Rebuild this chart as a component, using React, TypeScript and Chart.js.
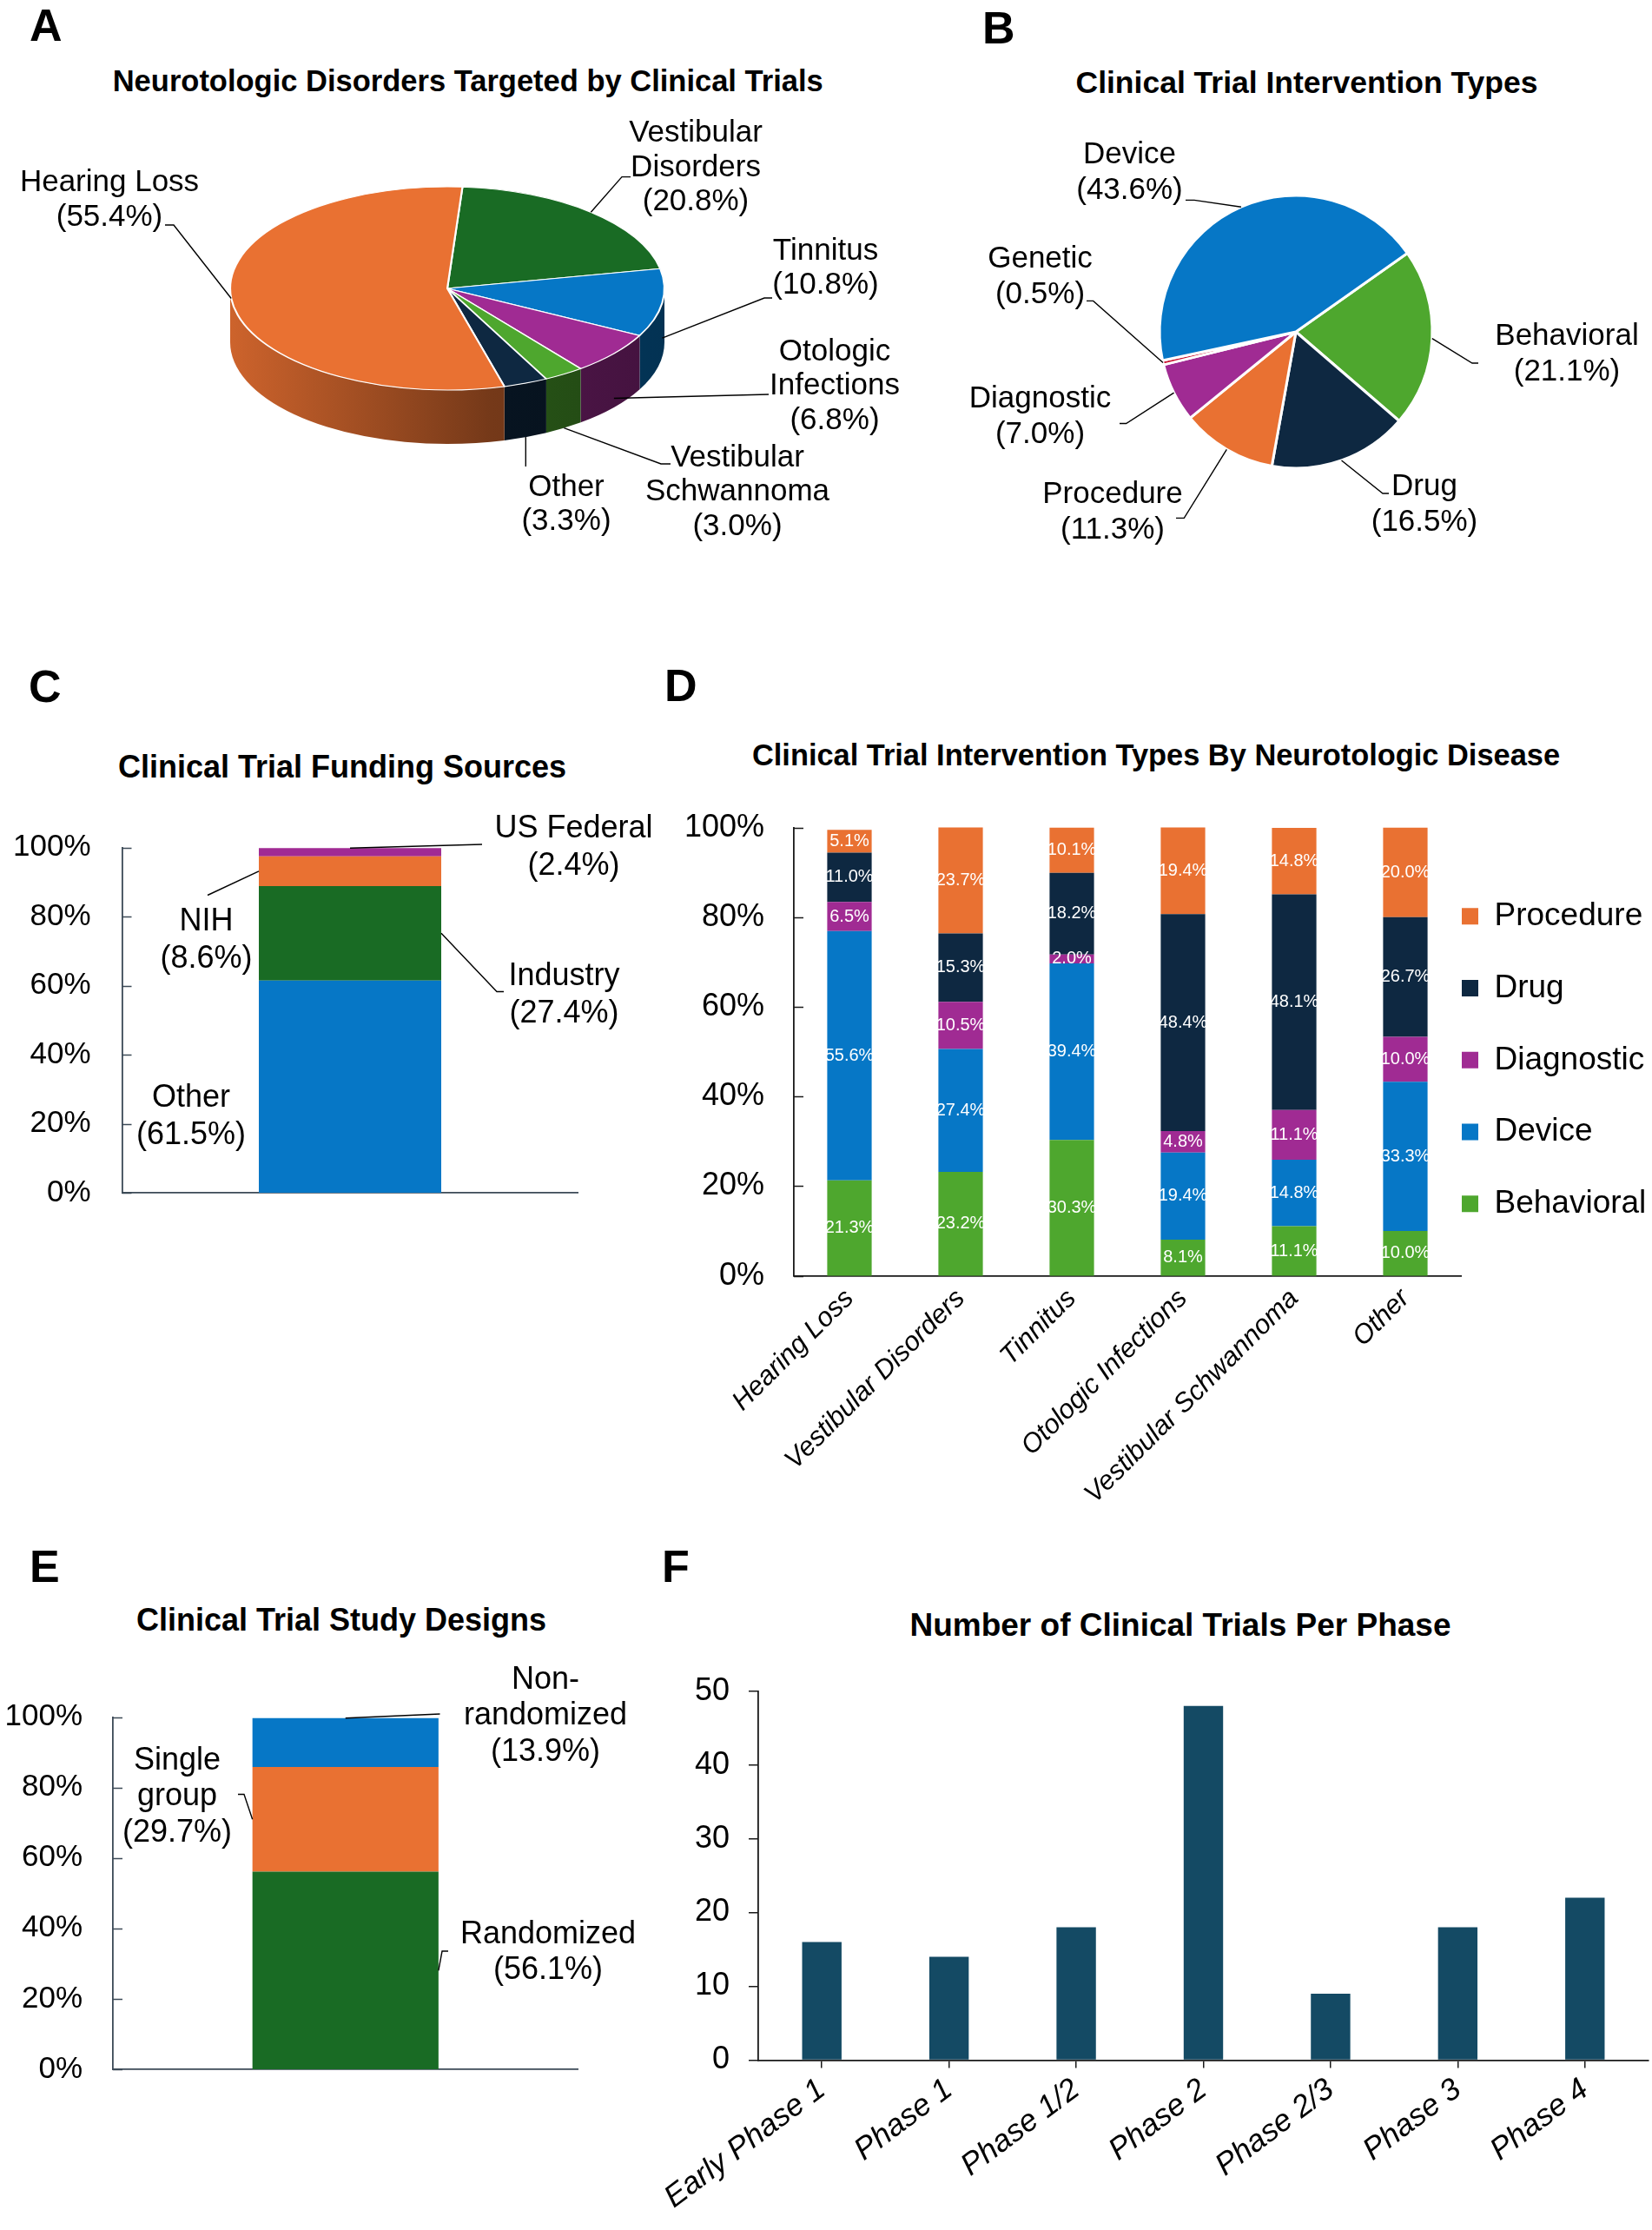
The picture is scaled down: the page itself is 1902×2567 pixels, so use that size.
import React, { useEffect, useRef } from 'react';
import { Chart, registerables } from 'chart.js';

Chart.register(...registerables);

const FONT = '"Liberation Sans", Arial, Helvetica, sans-serif';
Chart.defaults.font.family = FONT;
Chart.defaults.color = '#000';

// ---------- palette ----------
const ORANGE = '#E97132';
const DKGREEN = '#196B24';
const BLUE = '#0677C6';
const PURPLE = '#A02B93';
const LTGREEN = '#4EA72E';
const NAVY = '#0E2841';
const RED = '#C8102E';
const TEAL = '#144A64';
const AXIS_C = '#3c4a57';
const AXIS_D = '#1a1a1a';

// ---------- A: disorders (clockwise from top) ----------
const disorderNames = ['Vestibular Disorders', 'Tinnitus', 'Otologic Infections', 'Vestibular Schwannoma', 'Other', 'Hearing Loss'];
const disorderShares = [20.8, 10.8, 6.8, 3.0, 3.3, 55.4];
const disorderColors = [DKGREEN, BLUE, PURPLE, LTGREEN, NAVY, ORANGE];

// ---------- B: intervention types (clockwise) ----------
const interventionNames = ['Behavioral', 'Drug', 'Procedure', 'Diagnostic', 'Genetic', 'Device'];
const interventionShares = [21.1, 16.5, 11.3, 7.0, 0.5, 43.6];
const interventionColors = [LTGREEN, NAVY, ORANGE, PURPLE, RED, BLUE];

// ---------- C: funding (bottom to top) ----------
const fundingNames = ['Other', 'Industry', 'NIH', 'US Federal'];
const fundingShares = [61.5, 27.4, 8.6, 2.4];
const fundingColors = [BLUE, DKGREEN, ORANGE, PURPLE];

// ---------- D: intervention types by disease ----------
const diseaseCategories = ['Hearing Loss', 'Vestibular Disorders', 'Tinnitus', 'Otologic Infections', 'Vestibular Schwannoma', 'Other'];
const behavioralByDisease = [21.3, 23.2, 30.3, 8.1, 11.1, 10.0];
const deviceByDisease = [55.6, 27.4, 39.4, 19.4, 14.8, 33.3];
const diagnosticByDisease = [6.5, 10.5, 2.0, 4.8, 11.1, 10.0];
const drugByDisease = [11.0, 15.3, 18.2, 48.4, 48.1, 26.7];
const procedureByDisease = [5.1, 23.7, 10.1, 19.4, 14.8, 20.0];

// ---------- E: study designs (bottom to top) ----------
const designNames = ['Randomized', 'Single group', 'Non-randomized'];
const designShares = [56.1, 29.7, 13.9];
const designColors = [DKGREEN, ORANGE, BLUE];

// ---------- F: trials per phase ----------
const phaseLabels = ['Early Phase 1', 'Phase 1', 'Phase 1/2', 'Phase 2', 'Phase 2/3', 'Phase 3', 'Phase 4'];
const trialsPerPhase = [16, 14, 18, 48, 9, 18, 22];

// ---------- tick labels ----------
const percentTicks = [0, 20, 40, 60, 80, 100];
const countTicks = [0, 10, 20, 30, 40, 50];

// ---------- text ----------
const panelLetters = [
  { t: 'A', x: 34, base: 46.7 },
  { t: 'B', x: 1131, base: 50 },
  { t: 'C', x: 33, base: 808 },
  { t: 'D', x: 765, base: 807 },
  { t: 'E', x: 34, base: 1821 },
  { t: 'F', x: 762, base: 1821 },
];
const panelTitles = [
  { t: 'Neurotologic Disorders Targeted by Clinical Trials', cx: 538.7, base: 105, size: 34.5 },
  { t: 'Clinical Trial Intervention Types', cx: 1504.5, base: 108, size: 35.5 },
  { t: 'Clinical Trial Funding Sources', cx: 394, base: 895, size: 36 },
  { t: 'Clinical Trial Intervention Types By Neurotologic Disease', cx: 1331, base: 880.7, size: 34.4 },
  { t: 'Clinical Trial Study Designs', cx: 393, base: 1877, size: 36 },
  { t: 'Number of Clinical Trials Per Phase', cx: 1359, base: 1883, size: 37 },
];

// ---------- helpers ----------
function shade(hex: string, f: number) {
  const n = parseInt(hex.slice(1), 16);
  const r = Math.round(((n >> 16) & 255) * f);
  const g = Math.round(((n >> 8) & 255) * f);
  const b = Math.round((n & 255) * f);
  return `rgb(${r},${g},${b})`;
}

function labelLines(name: string, value: number, wrap: boolean) {
  let parts = [name];
  if (wrap) {
    const h = name.indexOf('-');
    if (h >= 0) parts = [name.slice(0, h + 1), name.slice(h + 1)];
    else {
      const s = name.indexOf(' ');
      if (s >= 0) parts = [name.slice(0, s), name.slice(s + 1)];
    }
  }
  return [...parts, `(${value.toFixed(1)}%)`];
}

// ---------- plugins ----------
const pie3dPlugin = {
  id: 'pie3d',
  beforeDatasetsDraw(chart: any, _a: any, o: any) {
    const arcs = chart.getDatasetMeta(0).data as any[];
    if (!arcs.length || !o || !o.ry) return;
    const ctx = chart.ctx as CanvasRenderingContext2D;
    const a0 = arcs[0];
    const cx = a0.x, cyC = a0.y, r = a0.outerRadius;
    const ty = o.cy, ry = o.ry, d = o.depth;
    const colors = chart.data.datasets[0].backgroundColor as string[];
    const TWO = Math.PI * 2;
    arcs.forEach((arc: any, i: number) => {
      let s = arc.startAngle, e = arc.endAngle;
      const k = Math.floor(s / TWO);
      s -= k * TWO; e -= k * TWO;
      [0, TWO].forEach((base) => {
        const a = Math.max(s, base), b = Math.min(e, base + Math.PI);
        if (b <= a) return;
        const g = ctx.createLinearGradient(cx - r, 0, cx + r, 0);
        g.addColorStop(0, shade(colors[i], 0.88));
        g.addColorStop(0.6, shade(colors[i], 0.5));
        g.addColorStop(1, shade(colors[i], 0.42));
        ctx.beginPath();
        ctx.ellipse(cx, ty, r, ry, 0, a, b, false);
        ctx.lineTo(cx + r * Math.cos(b), ty + ry * Math.sin(b) + d);
        ctx.ellipse(cx, ty + d, r, ry, 0, b, a, true);
        ctx.closePath();
        ctx.fillStyle = g;
        ctx.fill();
      });
    });
    ctx.save();
    ctx.translate(0, ty);
    ctx.scale(1, ry / r);
    ctx.translate(0, -cyC);
    o._saved = true;
  },
  afterDatasetsDraw(chart: any, _a: any, o: any) {
    if (o && o._saved) {
      chart.ctx.restore();
      o._saved = false;
    }
  },
};

const calloutPlugin = {
  id: 'callouts',
  afterDraw(chart: any, _a: any, o: any) {
    if (!o || !o.items) return;
    const ctx = chart.ctx as CanvasRenderingContext2D;
    const isPie = chart.config.type === 'pie';
    const p3 = chart.options.plugins.pie3d;
    const ox = o.ox, oy = o.oy;
    ctx.save();
    ctx.lineWidth = o.lineWidth;
    ctx.strokeStyle = '#000';
    ctx.fillStyle = '#000';
    ctx.font = `${o.fontSize}px ${FONT}`;
    ctx.textAlign = 'center';
    ctx.textBaseline = 'middle';
    for (const it of o.items) {
      let name = '', value = 0;
      let anchor: { x: number; y: number } | null = null;
      if (isPie) {
        name = chart.data.labels[it.index];
        value = chart.data.datasets[0].data[it.index];
        const arc = chart.getDatasetMeta(0).data[it.index];
        const m = (arc.startAngle + arc.endAngle) / 2, r = arc.outerRadius;
        if (p3 && p3.ry) anchor = { x: arc.x + r * Math.cos(m), y: p3.cy + p3.ry * Math.sin(m) + (it.drop || 0) * p3.depth };
        else anchor = { x: arc.x + r * Math.cos(m), y: arc.y + r * Math.sin(m) };
      } else {
        const ds = chart.data.datasets[it.index];
        name = ds.label;
        value = ds.data[0];
        if (it.fx !== undefined) {
          const el = chart.getDatasetMeta(it.index).data[0];
          const top = Math.min(el.y, el.base), bot = Math.max(el.y, el.base);
          anchor = { x: el.x + (it.fx * el.width) / 2, y: top + it.fy * (bot - top) };
        }
      }
      if (anchor && it.path && it.path.length) {
        ctx.beginPath();
        ctx.moveTo(anchor.x, anchor.y);
        let px = anchor.x;
        for (const p of it.path) {
          const x = p.x === undefined ? px : p.x - ox;
          ctx.lineTo(x, p.y - oy);
          px = x;
        }
        ctx.stroke();
      }
      labelLines(name, value, !!it.wrap).forEach((l, i) => {
        ctx.fillText(l, it.x - ox, it.y - oy + i * o.lineGap);
      });
    }
    ctx.restore();
  },
};

const innerTickPlugin = {
  id: 'innerTicks',
  afterDatasetsDraw(chart: any, _a: any, o: any) {
    if (!o || !o.length) return;
    const s = chart.scales.y;
    const ctx = chart.ctx as CanvasRenderingContext2D;
    ctx.save();
    ctx.strokeStyle = o.color;
    ctx.lineWidth = o.width;
    s.ticks.forEach((_t: any, i: number) => {
      const y = Math.round(s.getPixelForTick(i)) + 0.5;
      ctx.beginPath();
      ctx.moveTo(s.right, y);
      ctx.lineTo(s.right + o.length, y);
      ctx.stroke();
    });
    ctx.restore();
  },
};

const barValuePlugin = {
  id: 'barValues',
  afterDatasetsDraw(chart: any, _a: any, o: any) {
    if (!o || !o.size) return;
    const ctx = chart.ctx as CanvasRenderingContext2D;
    ctx.save();
    ctx.fillStyle = o.color;
    ctx.font = `${o.size}px ${FONT}`;
    ctx.textAlign = 'center';
    ctx.textBaseline = 'middle';
    chart.data.datasets.forEach((ds: any, di: number) => {
      chart.getDatasetMeta(di).data.forEach((el: any, i: number) => {
        const v = ds.data[i] as number;
        ctx.fillText(`${v.toFixed(1)}%`, el.x, (el.y + el.base) / 2);
      });
    });
    ctx.restore();
  },
};

const legendShiftPlugin = {
  id: 'legendShift',
  afterLayout(chart: any, _a: any, o: any) {
    const lg = chart.legend;
    if (!lg || !o) return;
    lg.left += o.dx || 0;
    lg.right = chart.width;
    lg.width = lg.right - lg.left;
    lg.top += o.dy || 0;
    lg.bottom += o.dy || 0;
  },
};

// ---------- chart factories ----------
type Box = [number, number, number, number];

const boxA: Box = [0, 130, 1048, 570];
const boxB: Box = [1048, 130, 854, 570];
const boxC: Box = [0, 900, 760, 530];
const boxD: Box = [760, 880, 1142, 880];
const boxE: Box = [0, 1900, 760, 540];
const boxF: Box = [740, 1900, 1162, 667];

function makeA(cv: HTMLCanvasElement) {
  const [ox, oy] = boxA;
  return new Chart(cv, {
    type: 'pie',
    data: {
      labels: disorderNames,
      datasets: [{ data: disorderShares, backgroundColor: disorderColors, borderColor: '#ffffff', borderWidth: 2.2, clip: false } as any],
    },
    options: {
      animation: false,
      responsive: true,
      maintainAspectRatio: false,
      rotation: 4,
      radius: 250,
      layout: { padding: { left: 10, right: 28, top: 10, bottom: 10 } },
      events: [],
      plugins: {
        legend: { display: false },
        tooltip: { enabled: false },
        pie3d: { cy: 332 - oy, ry: 117, depth: 62 },
        callouts: {
          ox, oy, fontSize: 35, lineGap: 39.5, lineWidth: 1.4,
          items: [
            { index: 5, wrap: false, x: 126, y: 210.7, drop: 0, path: [{ x: 200, y: 259 }, { x: 190, y: 259 }] },
            { index: 0, wrap: true, x: 801, y: 153.6, drop: 0, path: [{ x: 716, y: 203.6 }, { x: 726, y: 203.6 }] },
            { index: 1, wrap: false, x: 950.5, y: 289, drop: 0.65, path: [{ x: 880, y: 343 }, { x: 889, y: 343 }] },
            { index: 2, wrap: true, x: 961, y: 405, drop: 0.83, path: [{ x: 885, y: 454 }] },
            { index: 3, wrap: true, x: 849, y: 527, drop: 1.0, path: [{ x: 761, y: 534 }, { x: 772, y: 534 }] },
            { index: 4, wrap: false, x: 652, y: 561, drop: 1.0, path: [{ y: 537 }] },
          ],
        },
      } as any,
    },
    plugins: [pie3dPlugin, calloutPlugin] as any,
  });
}

function makeB(cv: HTMLCanvasElement) {
  const [ox, oy] = boxB;
  return new Chart(cv, {
    type: 'pie',
    data: {
      labels: interventionNames,
      datasets: [{ data: interventionShares, backgroundColor: interventionColors, borderColor: '#ffffff', borderWidth: 3, clip: false } as any],
    },
    options: {
      animation: false,
      responsive: true,
      maintainAspectRatio: false,
      rotation: 54.8,
      radius: 157,
      layout: { padding: { left: 44, right: 10, top: 10, bottom: 76 } },
      events: [],
      plugins: {
        legend: { display: false },
        tooltip: { enabled: false },
        callouts: {
          ox, oy, fontSize: 35, lineGap: 41, lineWidth: 1.4,
          items: [
            { index: 5, x: 1300.5, y: 178.6, path: [{ x: 1375, y: 230.4 }, { x: 1365, y: 230.4 }] },
            { index: 4, x: 1197.5, y: 298, path: [{ x: 1258.7, y: 346.4 }, { x: 1251, y: 346.4 }] },
            { index: 0, x: 1804, y: 387.5, path: [{ x: 1695, y: 418 }, { x: 1702, y: 418 }] },
            { index: 3, x: 1197.5, y: 459, path: [{ x: 1296.6, y: 487.5 }, { x: 1289, y: 487.5 }] },
            { index: 2, x: 1281, y: 569.6, path: [{ x: 1363.3, y: 596.4 }, { x: 1354, y: 596.4 }] },
            { index: 1, x: 1640, y: 560.7, path: [{ x: 1592, y: 568 }, { x: 1599, y: 568 }] },
          ],
        },
      } as any,
    },
    plugins: [calloutPlugin] as any,
  });
}

function makeSingleStack(
  cv: HTMLCanvasElement,
  box: Box,
  names: string[],
  values: number[],
  colors: string[],
  area: { left: number; top: number; right: number; bottom: number },
  tickSize: number,
  tickPad: number,
  callouts: any[],
  lineGap: number,
) {
  const [ox, oy, w, h] = box;
  return new Chart(cv, {
    type: 'bar',
    data: {
      labels: [''],
      datasets: names.map((n, i) => ({
        label: n,
        data: [values[i]],
        backgroundColor: colors[i],
        borderWidth: 0,
        barPercentage: 0.4,
        categoryPercentage: 1,
      })),
    },
    options: {
      animation: false,
      responsive: true,
      maintainAspectRatio: false,
      events: [],
      layout: { padding: { left: 0, top: area.top - oy, right: ox + w - area.right, bottom: 0 } },
      plugins: {
        legend: { display: false },
        tooltip: { enabled: false },
        innerTicks: { length: 11, color: AXIS_C, width: 1.5 },
        callouts: { ox, oy, fontSize: 36, lineGap, lineWidth: 1.4, items: callouts },
      } as any,
      scales: {
        x: {
          stacked: true,
          grid: { display: false, drawTicks: false },
          border: { display: true, color: AXIS_C, width: 1.8 },
          ticks: { display: false },
          afterFit: (s: any) => { s.height = oy + h - area.bottom; },
        },
        y: {
          stacked: true,
          min: 0,
          max: 100,
          afterBuildTicks: (s: any) => { s.ticks = percentTicks.map((v) => ({ value: v })); },
          ticks: { callback: (v: any) => `${v}%`, font: { size: tickSize, family: FONT }, color: '#000', padding: tickPad },
          grid: { display: false, drawTicks: false },
          border: { display: true, color: AXIS_C, width: 1.8 },
          afterFit: (s: any) => { s.width = area.left - ox; },
        },
      } as any,
    },
    plugins: [innerTickPlugin, calloutPlugin] as any,
  });
}

function makeC(cv: HTMLCanvasElement) {
  return makeSingleStack(
    cv, boxC, fundingNames, fundingShares, fundingColors,
    { left: 140.5, top: 975.8, right: 665.5, bottom: 1393 },
    35, 36,
    [
      { index: 3, x: 660.5, y: 954, fx: 0, fy: 0, path: [{ x: 555, y: 972 }] },
      { index: 2, x: 237.5, y: 1061, fx: -1, fy: 0.5, path: [{ x: 239, y: 1030.5 }] },
      { index: 1, x: 649.5, y: 1124, fx: 1, fy: 0.5, path: [{ x: 572, y: 1141.5 }, { x: 580, y: 1141.5 }] },
      { index: 0, x: 220, y: 1264, path: [] },
    ],
    43,
  );
}

function makeE(cv: HTMLCanvasElement) {
  return makeSingleStack(
    cv, boxE, designNames, designShares, designColors,
    { left: 130, top: 1976.5, right: 665.5, bottom: 2382 },
    35, 35,
    [
      { index: 2, wrap: true, x: 628, y: 1934, fx: 0, fy: 0, path: [{ x: 506.5, y: 1973 }] },
      { index: 1, wrap: true, x: 204, y: 2027, fx: -1, fy: 0.5, path: [{ x: 281, y: 2065.5 }, { x: 274, y: 2065.5 }] },
      { index: 0, wrap: true, x: 631, y: 2226.6, fx: 1, fy: 0.5, path: [{ x: 509, y: 2246 }, { x: 516, y: 2246 }] },
    ],
    41.5,
  );
}

function makeD(cv: HTMLCanvasElement) {
  const [ox, oy, , h] = boxD;
  const series = [
    { label: 'Behavioral', data: behavioralByDisease, color: LTGREEN },
    { label: 'Device', data: deviceByDisease, color: BLUE },
    { label: 'Diagnostic', data: diagnosticByDisease, color: PURPLE },
    { label: 'Drug', data: drugByDisease, color: NAVY },
    { label: 'Procedure', data: procedureByDisease, color: ORANGE },
  ];
  return new Chart(cv, {
    type: 'bar',
    data: {
      labels: diseaseCategories,
      datasets: series.map((s) => ({
        label: s.label,
        data: s.data,
        backgroundColor: s.color,
        borderWidth: 0,
        barPercentage: 0.4,
        categoryPercentage: 1,
      })),
    },
    options: {
      animation: false,
      responsive: true,
      maintainAspectRatio: false,
      events: [],
      layout: { padding: { left: 0, top: 952.6 - oy, right: 0, bottom: 0 } },
      plugins: {
        legend: {
          display: true,
          position: 'right',
          align: 'start',
          reverse: true,
          maxWidth: 220,
          labels: { boxWidth: 19, boxHeight: 19, padding: 45.75, font: { size: 37, family: FONT }, color: '#000' },
        },
        legendShift: { dx: -44.75, dy: 38 },
        tooltip: { enabled: false },
        innerTicks: { length: 11, color: AXIS_D, width: 1.5 },
        barValues: { size: 20, color: '#ffffff' },
      } as any,
      scales: {
        x: {
          stacked: true,
          grid: { display: false, drawTicks: false },
          border: { display: true, color: AXIS_D, width: 1.8 },
          ticks: { autoSkip: false, maxRotation: 45, minRotation: 45, padding: 8, font: { size: 31, style: 'italic', family: FONT }, color: '#000' },
          afterFit: (s: any) => { s.height = oy + h - 1468.7; },
        },
        y: {
          stacked: true,
          min: 0,
          max: 100,
          afterBuildTicks: (s: any) => { s.ticks = percentTicks.map((v) => ({ value: v })); },
          ticks: { callback: (v: any) => `${v}%`, font: { size: 36, family: FONT }, color: '#000', padding: 34 },
          grid: { display: false, drawTicks: false },
          border: { display: true, color: AXIS_D, width: 1.8 },
          afterFit: (s: any) => { s.width = 914 - ox; },
        },
      } as any,
    },
    plugins: [legendShiftPlugin, innerTickPlugin, barValuePlugin] as any,
  });
}

function makeF(cv: HTMLCanvasElement) {
  const [ox, oy, w, h] = boxF;
  return new Chart(cv, {
    type: 'bar',
    data: {
      labels: phaseLabels,
      datasets: [{ label: 'Trials', data: trialsPerPhase, backgroundColor: TEAL, borderWidth: 0, barPercentage: 0.31, categoryPercentage: 1 }],
    },
    options: {
      animation: false,
      responsive: true,
      maintainAspectRatio: false,
      events: [],
      layout: { padding: { left: 0, top: 1946.7 - oy, right: ox + w - 1898, bottom: 0 } },
      plugins: { legend: { display: false }, tooltip: { enabled: false } },
      scales: {
        x: {
          grid: { display: true, drawOnChartArea: false, drawTicks: true, tickLength: 9, offset: false, color: AXIS_D, lineWidth: 1.5 },
          border: { display: true, color: AXIS_D, width: 1.8 },
          ticks: { autoSkip: false, maxRotation: 37, minRotation: 37, padding: 4, font: { size: 35.5, style: 'italic', family: FONT }, color: '#000' },
          afterFit: (s: any) => { s.height = oy + h - 2371.4; },
        },
        y: {
          min: 0,
          max: 50,
          afterBuildTicks: (s: any) => { s.ticks = countTicks.map((v) => ({ value: v })); },
          ticks: { font: { size: 36, family: FONT }, color: '#000', padding: 22 },
          grid: { display: true, drawOnChartArea: false, drawTicks: true, tickLength: 11, color: AXIS_D, lineWidth: 1.5 },
          border: { display: true, color: AXIS_D, width: 1.8 },
          afterFit: (s: any) => { s.width = 873 - ox; },
        },
      } as any,
    },
  });
}

// ---------- components ----------
function ChartBox({ box, make }: { box: Box; make: (c: HTMLCanvasElement) => Chart }) {
  const ref = useRef<HTMLCanvasElement>(null);
  useEffect(() => {
    const c = make(ref.current as HTMLCanvasElement);
    return () => c.destroy();
  }, []);
  const [left, top, width, height] = box;
  return (
    <div style={{ position: 'absolute', left, top, width, height }}>
      <canvas ref={ref} />
    </div>
  );
}

const ASC = 0.8465;

export default function App() {
  return (
    <div style={{ position: 'absolute', left: 0, top: 0, width: 1902, height: 2567, background: '#ffffff', overflow: 'hidden', fontFamily: FONT, color: '#000' }}>
      {panelLetters.map((l) => (
        <div key={l.t} style={{ position: 'absolute', left: l.x, top: l.base - ASC * 52, fontSize: 52, lineHeight: '52px', fontWeight: 'bold', whiteSpace: 'nowrap' }}>{l.t}</div>
      ))}
      {panelTitles.map((t) => (
        <div key={t.t} style={{ position: 'absolute', left: t.cx - 600, width: 1200, textAlign: 'center', top: t.base - ASC * t.size, fontSize: t.size, lineHeight: `${t.size}px`, fontWeight: 'bold', whiteSpace: 'nowrap' }}>{t.t}</div>
      ))}
      <ChartBox box={boxA} make={makeA} />
      <ChartBox box={boxB} make={makeB} />
      <ChartBox box={boxC} make={makeC} />
      <ChartBox box={boxD} make={makeD} />
      <ChartBox box={boxE} make={makeE} />
      <ChartBox box={boxF} make={makeF} />
    </div>
  );
}
